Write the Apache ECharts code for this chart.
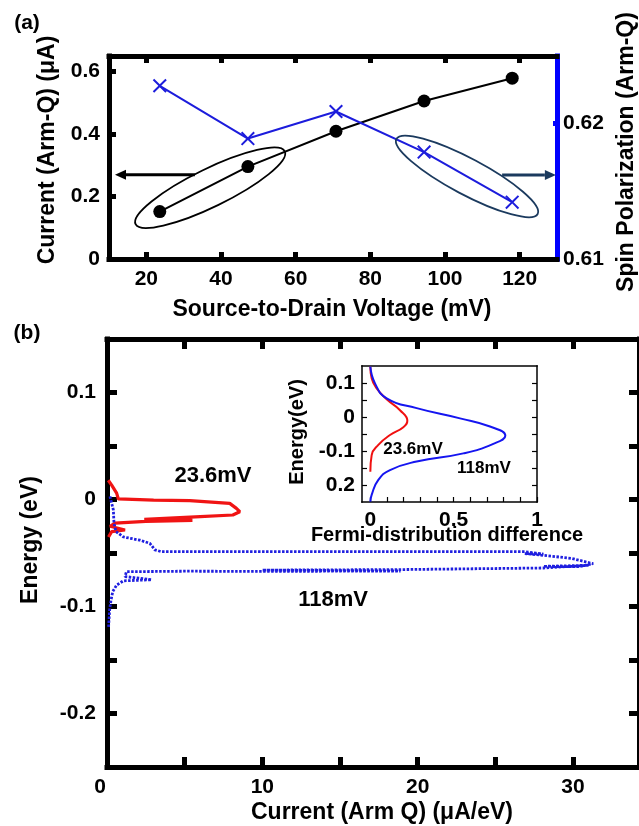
<!DOCTYPE html>
<html>
<head>
<meta charset="utf-8">
<script src="https://cdn.jsdelivr.net/npm/echarts@6/dist/echarts.min.js"></script>
<style>
  html, body { margin: 0; padding: 0; background: #fff; }
  #chart { width: 639px; height: 826px; }
</style>
</head>
<body>
<div id="chart"></div>
<script>
// (a) arm-Q current and spin polarization vs bias
const voltages = [23.6, 47.2, 70.8, 94.4, 118];
const currentArmQ = [0.152, 0.296, 0.409, 0.506, 0.579];
const spinPolarization = [0.6228, 0.6189, 0.6209, 0.6179, 0.6142];
const voltageTicks = [20, 40, 60, 80, 100, 120];
const currentTicks = [0, 0.2, 0.4, 0.6];
const spinTicks = [0.62];
const spinLabels = [0.61, 0.62];

// (b) energy-resolved current, arm Q
const red236Current = [0.08, 0.3, 0.62, 0.73, 3.0, 5.33, 7.9, 8.33, 8.55, 8.1, 6.0, 5.9, 2.4, 5.5, 2.5, 0.51, 0.2, 1.16, 0.3, 0.1];
const red236Energy = [0.018, 0.0135, 0.006, 0.0005, -0.0005, -0.001, -0.0036, -0.0083, -0.0114, -0.0145, -0.016, -0.0175, -0.0185, -0.0195, -0.0205, -0.022, -0.025, -0.0285, -0.030, -0.035];
const blue118Current = [0.19, 0.41, 0.45, 0.58, 1.05, 2.12, 2.76, 3.08, 3.5, 15, 26.95, 28.1, 26.9, 28.3, 29.9, 31.3, 30.4, 28.1, 31.0, 28.1, 18.9, 10.0, 18.9, 10.0, 5.1, 1.25, 1.37, 1.16, 2.87, 1.05, 0.62, 0.37, 0.26, 0.17, 0.1];
const blue118Energy = [0.003, -0.0098, -0.022, -0.030, -0.035, -0.038, -0.041, -0.047, -0.0488, -0.0488, -0.0488, -0.051, -0.0505, -0.0525, -0.055, -0.060, -0.0628, -0.0625, -0.0615, -0.064, -0.0655, -0.066, -0.0668, -0.0672, -0.067, -0.0675, -0.069, -0.072, -0.075, -0.076, -0.080, -0.086, -0.094, -0.103, -0.119];
const densityTicks = [0, 5, 10, 15, 20, 25, 30];
const densityLabels = [0, 10, 20, 30];
const energyTicks = [-0.2, -0.15, -0.1, -0.05, 0, 0.05, 0.1];
const energyLabels = [-0.2, -0.1, 0, 0.1];

// inset: Fermi-distribution difference
const fermi236 = [0.0, 0.008, 0.038, 0.098, 0.178, 0.222, 0.198, 0.118, 0.048, 0.008, 0.0];
const fermi236Energy = [0.148, 0.114, 0.084, 0.052, 0.020, -0.011, -0.030, -0.053, -0.082, -0.112, -0.161];
const fermi118 = [0.0, 0.028, 0.098, 0.278, 0.538, 0.718, 0.810, 0.738, 0.558, 0.278, 0.118, 0.048, 0.008, 0.0];
const fermi118Energy = [0.148, 0.099, 0.055, 0.026, -0.004, -0.028, -0.055, -0.079, -0.107, -0.131, -0.156, -0.185, -0.229, -0.249];
const fermiTicks = [0, 0.1, 0.2, 0.3, 0.4, 0.5, 0.6, 0.7, 0.8, 0.9, 1];
const fermiLabels = [0, 0.5, 1];

// annotation anchors (data units of panel a)
const leftRingCenter = [37.1, 0.228];
const rightRingCenter = [105.9, 0.6161];
const currentArrow = [[33.0, 0.27], [11.6, 0.27]];
const spinArrow = [[115.3, 0.6162], [129.7, 0.6162]];

const FONT = '"Liberation Sans", Arial, Helvetica, sans-serif';
const BLUE_A = '#1c1cdc';
const NAVY = '#1b3a5e';
const zip = (xs, ys) => xs.map((x, i) => [x, ys[i]]);
const txt = (size, extra) => ({ color: '#000', fontFamily: FONT, fontWeight: 'bold', fontSize: size, ...(extra || {}) });
const num = v => (v === 0 ? '0' : String(+v.toFixed(2)));

function frame(o) {
  const { color = '#000', width = 5, tickLen = 7, tickWidth = 5, ticks, labels, fmt, margin = 10, size = 21, rich, ...rest } = o;
  return {
    type: 'value',
    splitLine: { show: false },
    axisLine: { show: true, onZero: false, lineStyle: { color, width, cap: 'square' } },
    axisTick: ticks ? { show: true, inside: true, length: tickLen, customValues: ticks, lineStyle: { color, width: tickWidth } } : { show: false },
    axisLabel: labels ? { show: true, margin, customValues: labels, formatter: fmt || num, rich, ...txt(size) } : { show: false },
    ...rest
  };
}

const chart = echarts.init(document.getElementById('chart'));

const crossPath = 'path://M1,0 L5,4 L9,0 L10,1 L6,5 L10,9 L9,10 L5,6 L1,10 L0,9 L4,5 L0,1 Z';

chart.setOption({
  animation: false,
  backgroundColor: '#fff',
  grid: [
    { left: 109, top: 56, width: 448, height: 203 },
    { left: 107, top: 339, width: 533, height: 428 },
    { left: 362, top: 366, width: 175, height: 136, show: true, backgroundColor: '#fff', borderWidth: 0, z: 5 }
  ],
  xAxis: [
    frame({ gridIndex: 0, position: 'bottom', min: 10, max: 130, ticks: voltageTicks, labels: voltageTicks }),
    frame({ gridIndex: 0, position: 'top', min: 10, max: 130, ticks: voltageTicks }),
    frame({ gridIndex: 1, position: 'bottom', min: 0, max: 34.25, tickLen: 10, ticks: densityTicks, labels: densityLabels,
      fmt: v => (v === 0 ? '{z|0}' : String(v)),
      rich: { z: { ...txt(21), padding: [0, 14, 0, 0] } } }),
    frame({ gridIndex: 1, position: 'top', min: 0, max: 34.25, tickLen: 10, ticks: densityTicks }),
    frame({ gridIndex: 2, position: 'bottom', min: -0.05, max: 1, width: 1.5, tickLen: 5, tickWidth: 1.2, ticks: fermiTicks, labels: fermiLabels, margin: 8, z: 6 }),
    frame({ gridIndex: 2, position: 'top', min: -0.05, max: 1, width: 1.5, z: 6 })
  ],
  yAxis: [
    frame({ gridIndex: 0, position: 'left', min: 0, max: 0.65, ticks: currentTicks, labels: currentTicks, margin: 9 }),
    frame({ gridIndex: 0, position: 'right', min: 0.61, max: 0.625, color: '#0000ff', tickLen: 4, ticks: spinTicks,
      labels: spinLabels, margin: 6, fmt: v => v.toFixed(2) }),
    frame({ gridIndex: 1, position: 'left', min: -0.25, max: 0.15, tickLen: 10, ticks: energyTicks, labels: energyLabels, margin: 11 }),
    frame({ gridIndex: 1, position: 'right', min: -0.25, max: 0.15, tickLen: 10, ticks: energyTicks }),
    frame({ gridIndex: 2, position: 'left', min: -0.25, max: 0.15, width: 1.5, tickLen: 5, tickWidth: 1.2, ticks: energyTicks,
      labels: energyLabels, margin: 7, fmt: v => (v === -0.2 ? '0.2' : num(v)), z: 6 }),
    frame({ gridIndex: 2, position: 'right', min: -0.25, max: 0.15, width: 1.5, tickLen: 5, tickWidth: 1.2, ticks: energyTicks, z: 6 })
  ],
  series: [
    {
      name: 'Current', type: 'line', xAxisIndex: 0, yAxisIndex: 0,
      data: zip(voltages, currentArmQ),
      symbol: 'circle', symbolSize: 13,
      itemStyle: { color: '#000' }, lineStyle: { color: '#000', width: 2 }
    },
    {
      name: 'Spin polarization', type: 'line', xAxisIndex: 0, yAxisIndex: 1,
      data: zip(voltages, spinPolarization),
      symbol: crossPath, symbolSize: 14,
      itemStyle: { color: BLUE_A }, lineStyle: { color: BLUE_A, width: 2 }
    },
    {
      name: '23.6mV', type: 'line', xAxisIndex: 2, yAxisIndex: 2,
      data: zip(red236Current, red236Energy), showSymbol: false,
      lineStyle: { color: '#f01414', width: 3.2 }
    },
    {
      name: '118mV', type: 'line', xAxisIndex: 2, yAxisIndex: 2,
      data: zip(blue118Current, blue118Energy), showSymbol: false,
      lineStyle: { color: '#1f1fe0', width: 2.8, type: [2.5, 1.5] }
    },
    {
      name: 'Fermi 23.6mV', type: 'line', xAxisIndex: 4, yAxisIndex: 4, z: 7,
      data: zip(fermi236, fermi236Energy), showSymbol: false, smooth: 0.5,
      lineStyle: { color: '#f01010', width: 2 }
    },
    {
      name: 'Fermi 118mV', type: 'line', xAxisIndex: 4, yAxisIndex: 4, z: 7,
      data: zip(fermi118, fermi118Energy), showSymbol: false, smooth: 0.5,
      lineStyle: { color: '#1515f0', width: 2 }
    }
  ]
});

// annotations: text, rings and arrows
const text = (s, x, y, size, rot) => ({
  type: 'text', x, y, rotation: rot || 0, z: 100,
  style: { text: s, font: `bold ${size}px ${FONT}`, fill: '#000', align: 'center', verticalAlign: 'middle', textAlign: 'center', textVerticalAlign: 'middle' }
});
const ring = (c, rx, ry, deg, color) => ({
  type: 'ellipse', x: c[0], y: c[1], rotation: deg * Math.PI / 180, z: 100,
  shape: { cx: 0, cy: 0, rx, ry }, style: { fill: 'none', stroke: color, lineWidth: 1.8 }
});
function arrow(from, to, color) {
  const dir = Math.sign(to[0] - from[0]);
  const base = to[0] - dir * 11;
  return [
    { type: 'line', z: 100, shape: { x1: from[0], y1: from[1], x2: base, y2: to[1] }, style: { stroke: color, lineWidth: 3 } },
    { type: 'polygon', z: 100, shape: { points: [[to[0], to[1]], [base, to[1] - 5], [base, to[1] + 5]] }, style: { fill: color } }
  ];
}
const px = (si, p) => chart.convertToPixel({ seriesIndex: si }, p);

chart.setOption({
  graphic: [
    text('(a)', 27, 23, 21),
    text('(b)', 27, 333, 21),
    text('Current (Arm-Q) (\u03bcA)', 48, 150, 23, Math.PI / 2),
    text('Source-to-Drain Voltage (mV)', 332, 310, 23),
    text('Spin Polarization (Arm-Q)', 627, 152, 23, Math.PI / 2),
    text('Energy (eV)', 31, 540, 23, Math.PI / 2),
    text('Current (Arm Q) (\u03bcA/eV)', 382, 813, 23),
    text('23.6mV', 213, 476, 22),
    text('118mV', 333, 600, 22),
    text('Energy(eV)', 297, 432, 20, Math.PI / 2),
    text('Fermi-distribution difference', 447, 535, 20),
    text('23.6mV', 413, 449, 17),
    text('118mV', 484, 468, 17),
    ring(px(0, leftRingCenter), 83, 19, 26, '#000'),
    ring(px(1, rightRingCenter), 80, 18, -28, NAVY),
    ...arrow(px(0, currentArrow[0]), px(0, currentArrow[1]), '#000'),
    ...arrow(px(1, spinArrow[0]), px(1, spinArrow[1]), NAVY)
  ]
});
</script>
</body>
</html>
